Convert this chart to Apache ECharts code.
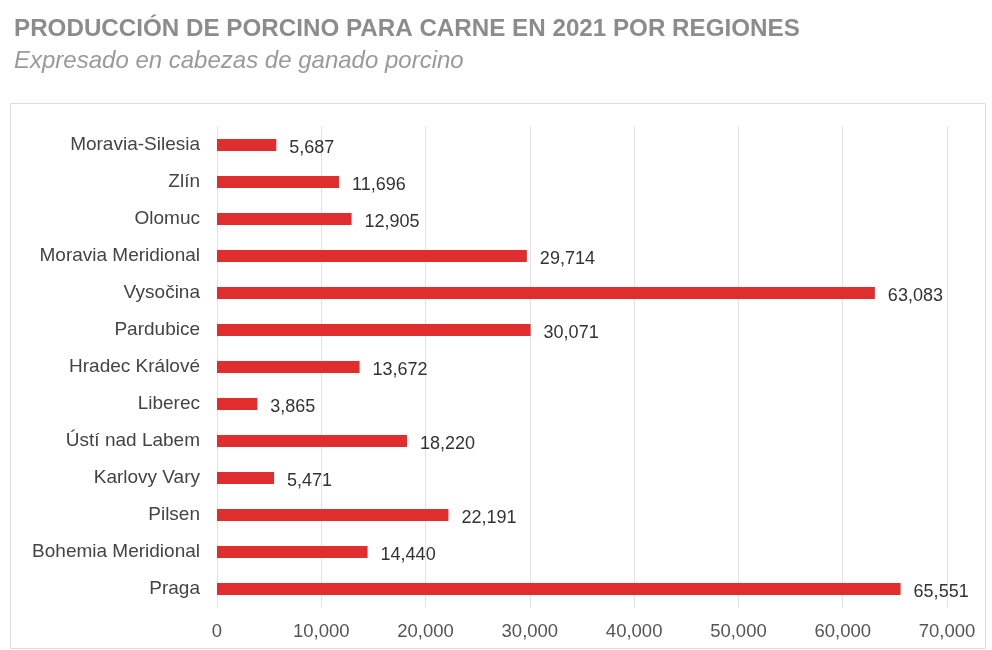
<!DOCTYPE html>
<html><head><meta charset="utf-8">
<script src="https://cdn.jsdelivr.net/npm/echarts@6/dist/echarts.min.js"></script>
<style>html,body{margin:0;padding:0;background:#fff}#c{width:992px;height:650px}</style>
</head><body><div id="c"></div>
<script>
const regions = ['Moravia-Silesia','Zlín','Olomuc','Moravia Meridional','Vysočina','Pardubice','Hradec Králové','Liberec','Ústí nad Labem','Karlovy Vary','Pilsen','Bohemia Meridional','Praga'];
const heads = [5687,11696,12905,29714,63083,30071,13672,3865,18220,5471,22191,14440,65551];
const xTicks = {min:0, max:70000, interval:10000};

const chart = echarts.init(document.getElementById('c'));
chart.setOption({
  animation:false,
  textStyle:{fontFamily:'"Liberation Sans", Arial, sans-serif'},
  title:[
    {text:'PRODUCCIÓN DE PORCINO PARA CARNE EN 2021 POR REGIONES', left:9, top:12,
     textStyle:{fontSize:24.2, fontWeight:'bold', color:'#8c8c8c', fontFamily:'"Liberation Sans", Arial, sans-serif'}},
    {text:'Expresado en cabezas de ganado porcino', left:9, top:44,
     textStyle:{fontSize:24, fontStyle:'italic', fontWeight:'normal', color:'#9a9a9a', fontFamily:'"Liberation Sans", Arial, sans-serif'}}
  ],
  graphic:[{type:'rect', shape:{x:10.5, y:103.5, width:975, height:545}, style:{fill:'none', stroke:'#dcdcdc', lineWidth:1}, silent:true}],
  grid:{left:217, right:45, top:126.5, bottom:42.5},
  xAxis:{type:'value', min:xTicks.min, max:xTicks.max, interval:xTicks.interval,
    axisLine:{show:false}, axisTick:{show:false},
    splitLine:{lineStyle:{color:'#e2e2e2'}},
    axisLabel:{color:'#555', fontSize:18.5, margin:15, formatter:v=>v.toLocaleString('en-US')}},
  yAxis:{type:'category', data:regions, inverse:true,
    axisLine:{show:false}, axisTick:{show:false},
    axisLabel:{color:'#444', fontSize:19, margin:17}},
  series:[{type:'bar', data:heads, barWidth:12, itemStyle:{color:'#e02e2e'},
    label:{show:true, position:'right', distance:13, offset:[0,3], color:'#333', fontSize:18,
      formatter:p=>p.value.toLocaleString('en-US')}}]
});
</script></body></html>
